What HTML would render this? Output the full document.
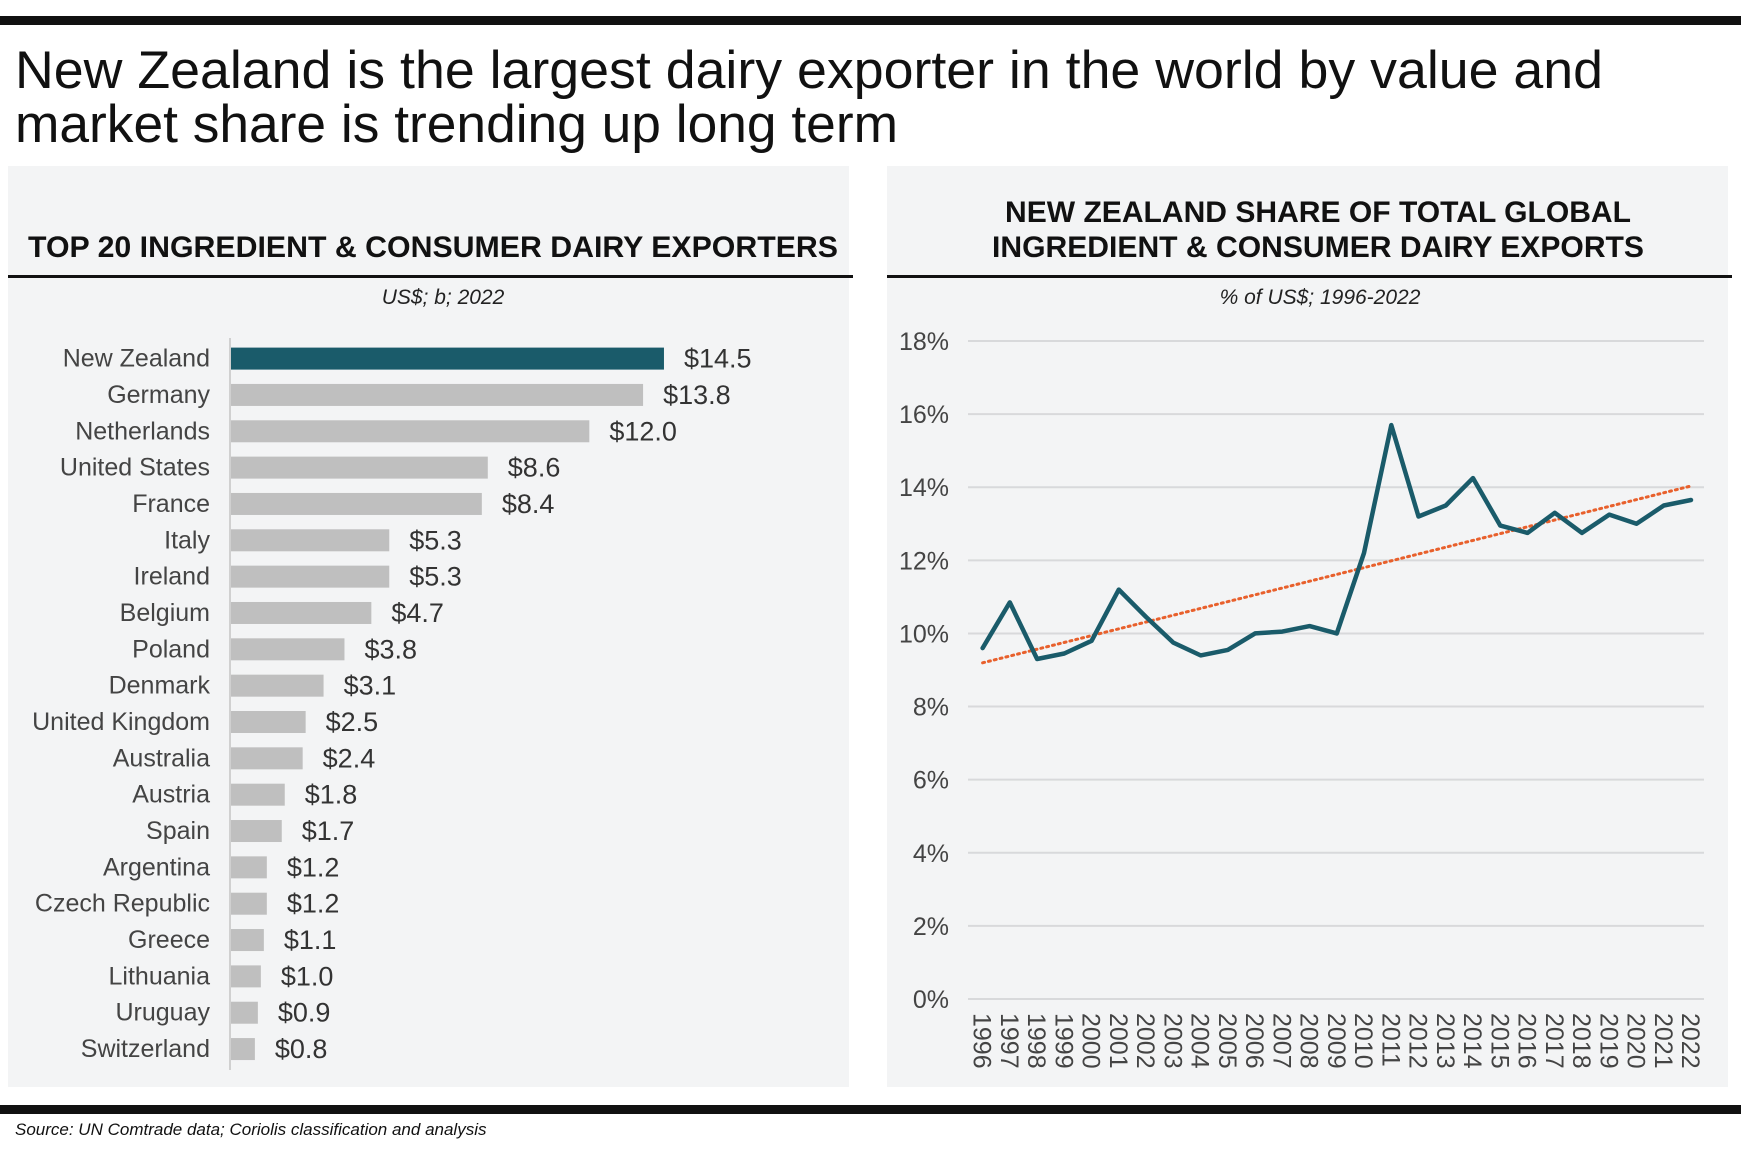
<!DOCTYPE html>
<html><head><meta charset="utf-8">
<style>
html,body{margin:0;padding:0;background:#fff;}
svg{display:block;font-family:"Liberation Sans Narrow","Liberation Sans",sans-serif;}
</style></head>
<body>
<svg id="root" width="1741" height="1155" viewBox="0 0 1741 1155" xmlns="http://www.w3.org/2000/svg">
  <rect x="0" y="16" width="1741" height="9" fill="#111"/>
  <text x="15" y="88" font-size="53" fill="#111" font-family="Liberation Sans, sans-serif" textLength="1588" lengthAdjust="spacingAndGlyphs">New Zealand is the largest dairy exporter in the world by value and</text>
  <text x="15" y="142" font-size="53" fill="#111" font-family="Liberation Sans, sans-serif" textLength="883" lengthAdjust="spacingAndGlyphs">market share is trending up long term</text>

  <rect x="8" y="166" width="841" height="921" fill="#f3f4f5"/>
  <rect x="887" y="166" width="841" height="921" fill="#f3f4f5"/>

  <text x="433" y="257" font-size="30" font-weight="bold" text-anchor="middle" fill="#111" font-family="Liberation Sans, sans-serif" textLength="810" lengthAdjust="spacingAndGlyphs">TOP 20 INGREDIENT &amp; CONSUMER DAIRY EXPORTERS</text>
  <rect x="8" y="275" width="845" height="3" fill="#111"/>
  <text x="443" y="304" font-size="21" font-style="italic" text-anchor="middle" fill="#222">US$; b; 2022</text>

  <text x="1318" y="222" font-size="30" font-weight="bold" text-anchor="middle" fill="#111" font-family="Liberation Sans, sans-serif" textLength="626" lengthAdjust="spacingAndGlyphs">NEW ZEALAND SHARE OF TOTAL GLOBAL</text>
  <text x="1318" y="257" font-size="30" font-weight="bold" text-anchor="middle" fill="#111" font-family="Liberation Sans, sans-serif" textLength="652" lengthAdjust="spacingAndGlyphs">INGREDIENT &amp; CONSUMER DAIRY EXPORTS</text>
  <rect x="887" y="275" width="845" height="3" fill="#111"/>
  <text x="1320" y="304" font-size="21" font-style="italic" text-anchor="middle" fill="#222">% of US$; 1996-2022</text>

  <g id="bars"></g>
  <g id="line"></g>

  <rect x="0" y="1105" width="1741" height="9" fill="#111"/>
  <text x="15" y="1135" font-size="17" font-style="italic" fill="#111">Source: UN Comtrade data; Coriolis classification and analysis</text>
</svg>
<script>
const countries = ["New Zealand","Germany","Netherlands","United States","France","Italy","Ireland","Belgium","Poland","Denmark","United Kingdom","Australia","Austria","Spain","Argentina","Czech Republic","Greece","Lithuania","Uruguay","Switzerland"];
const exportValues = [14.5,13.8,12.0,8.6,8.4,5.3,5.3,4.7,3.8,3.1,2.5,2.4,1.8,1.7,1.2,1.2,1.1,1.0,0.9,0.8];
const years = [1996,1997,1998,1999,2000,2001,2002,2003,2004,2005,2006,2007,2008,2009,2010,2011,2012,2013,2014,2015,2016,2017,2018,2019,2020,2021,2022];
const nzShare = [9.6,10.85,9.3,9.45,9.8,11.2,10.45,9.75,9.4,9.55,10.0,10.05,10.2,10.0,12.2,15.7,13.2,13.5,14.25,12.95,12.75,13.3,12.75,13.25,13.0,13.5,13.65];
const yTicks = [0,2,4,6,8,10,12,14,16,18];

const NS = "http://www.w3.org/2000/svg";
function mk(tag, attrs, parent){const e=document.createElementNS(NS,tag);for(const k in attrs)e.setAttribute(k,attrs[k]);parent.appendChild(e);return e;}

// Bar chart
const bg = document.getElementById('bars');
const bx0 = 231, bScale = 29.86, by0 = 358.6, bStep = 36.34, bH = 22;
const bxf = v => bx0 + v*bScale;
const byf = i => by0 + i*bStep;
const axis = mk('line',{x1:230,x2:230,y1:338,y2:1070,stroke:'#d0d0d0','stroke-width':2},bg);


countries.forEach((c,i)=>{
  const r = mk('rect',{x:bx0,y:byf(i)-bH/2,width:bxf(exportValues[i])-bx0,height:bH,fill:i===0?'#1a5b6a':'#bfbfbf'},bg);
  
  
  const t = mk('text',{x:210,y:byf(i)+8,'font-size':25,'text-anchor':'end',fill:'#444'},bg);
  t.textContent = c;
  
  
  const v = mk('text',{x:bxf(exportValues[i])+20,y:byf(i)+9,'font-size':27,fill:'#333'},bg);
  v.textContent = '$'+exportValues[i].toFixed(1);
  
  
});

// Line chart
const lg = document.getElementById('line');
const lx0 = 982.6, lx1 = 1691, ly0 = 999, ly18 = 341;
const lxf = yr => lx0 + (yr-years[0])*(lx1-lx0)/(years[years.length-1]-years[0]);
const lyf = v => ly0 - v*(ly0-ly18)/18;
yTicks.forEach(t=>{
  const g = mk('line',{x1:968,x2:1704,y1:lyf(t),y2:lyf(t),stroke:'#d8d9db','stroke-width':2},lg);
  
  
  const l = mk('text',{x:949,y:lyf(t)+9,'font-size':25,'text-anchor':'end',fill:'#444'},lg);
  l.textContent = t+'%';
  
  
});
years.forEach(yr=>{
  const t = mk('text',{x:0,y:0,'font-size':25,fill:'#444',transform:`translate(${lxf(yr)-9},1013) rotate(90)`},lg);
  t.textContent = yr;
  
  
});
// trend (least squares)
const n = years.length;
const mx = years.reduce((a,b)=>a+b,0)/n, my = nzShare.reduce((a,b)=>a+b,0)/n;
let sxy=0,sxx=0;years.forEach((x,i)=>{sxy+=(x-mx)*(nzShare[i]-my);sxx+=(x-mx)*(x-mx);});
const slope = sxy/sxx;
const tr = x => my + slope*(x-mx);
const trend = mk('line',{x1:lxf(years[0]),y1:lyf(tr(years[0])),x2:lxf(years[n-1]),y2:lyf(tr(years[n-1])),stroke:'#e8602c','stroke-width':3,'stroke-dasharray':'2 4','stroke-linecap':'round'},lg);


const pts = years.map((yr,i)=>lxf(yr).toFixed(1)+','+lyf(nzShare[i]).toFixed(1)).join(' ');
const pl = mk('polyline',{points:pts,fill:'none',stroke:'#1a5b6a','stroke-width':4.5,'stroke-linejoin':'round','stroke-linecap':'round'},lg);


</script>
</body></html>
